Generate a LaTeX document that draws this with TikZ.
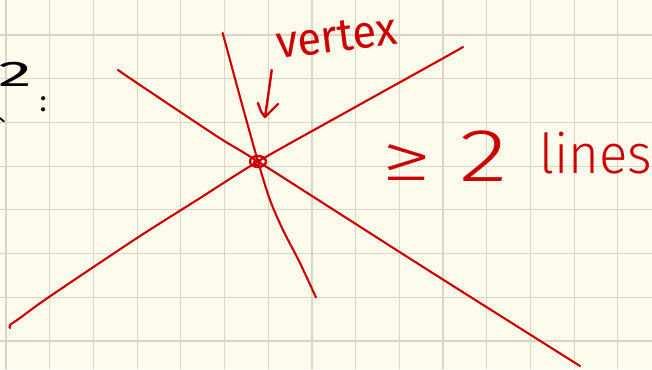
\documentclass[tikz,border=0pt]{standalone}
\usepackage{fontspec}
\setmainfont{Liberation Sans}
\newfontfamily\handfont{Fira Sans Light}
\newfontfamily\handfontb{Fira Sans}
\definecolor{paper}{HTML}{FDFBEC}
\definecolor{gridc}{HTML}{D9D6C6}
\definecolor{ink}{HTML}{CC0000}
\begin{document}
\begin{tikzpicture}[x=1pt,y=-1pt,line cap=round,line join=round,
  stroke/.style={draw=ink,line width=2.1pt},
  hand/.style={text=ink,inner sep=0pt,outer sep=0pt},
  blackhand/.style={text=black,inner sep=0pt,outer sep=0pt},
  gridline/.style={draw=gridc,line width=1.2pt}]
\fill[paper] (0,0) rectangle (652,369);
\useasboundingbox (0,0) rectangle (652,369);
\begin{scope}
\clip (0,0) rectangle (652,369);
\foreach \i in {0,...,14} \draw[gridline] ({6+43.7*\i},0) -- ++(0,369);
\foreach \j in {0,...,7} \draw[gridline] (0,{35+43.7*\j}) -- ++(652,0);

% black fragments at the left edge
\node[blackhand,anchor=base east,xscale=2.0,yscale=1.05,font=\handfontb\fontsize{34}{34}\selectfont] (two) at (32,86) {2};
\draw[black,line width=1.8pt] (0,118) -- (4,121.5);
\end{scope}
\node[blackhand,anchor=center,font=\handfontb\fontsize{30}{30}\selectfont] (colon) at (43.3,104.3) {:};

% vertex and line ends
\coordinate (v) at (258,161.5);
\coordinate (a1) at (118,70);
\coordinate (a2) at (580,366);
\coordinate (b1) at (10,328);
\coordinate (b2) at (463,47);
\coordinate (c1) at (222.7,33);
\coordinate (c2) at (316,297.5);

\draw[stroke] plot[smooth] coordinates {(a1) (137,83) (218,137) (v) (420,265) (a2)};
\draw[stroke] plot[smooth] coordinates {(b1) (10,325) (20,318) (49,297) (137,238) (197,200) (v) (350,110) (440,60) (b2)};
\draw[stroke] plot[smooth] coordinates {(c1) (240,97) (v) (270,200) (283,230) (300,263) (c2)};

% vertex mark
\draw[stroke,line width=2.4pt] (v) ellipse [x radius=8,y radius=5.5];
\draw[stroke,line width=2.2pt] ([shift={(-1,1)}]v) circle [radius=3];

% label and arrow
\node[hand,anchor=base west,rotate=7,xscale=0.95,font=\handfontb\fontsize{46}{46}\selectfont] (lbl) at (278,59) {vertex};
\coordinate (arrS) at (271.7,70);
\coordinate (arrT) at (265,117);
\draw[stroke,line width=2.4pt] (arrS) .. controls (269,90) .. (arrT);
\draw[stroke,line width=2.4pt] ([shift={(-7,-14)}]arrT) .. controls ([shift={(-4,-5)}]arrT) .. (arrT) -- ([shift={(13,-13)}]arrT);

% right text
\node[hand,anchor=center,xscale=1.7,yscale=1.1,font=\handfont\fontsize{60}{60}\selectfont] (ge) at (407,163) {≥};
\node[hand,anchor=center,xscale=1.35,font=\handfont\fontsize{75}{75}\selectfont] (num) at (484,156) {2};
\node[hand,anchor=base west,xscale=0.96,font=\handfont\fontsize{55}{55}\selectfont] (lines) at (539,173) {lines};
\end{tikzpicture}
\end{document}
